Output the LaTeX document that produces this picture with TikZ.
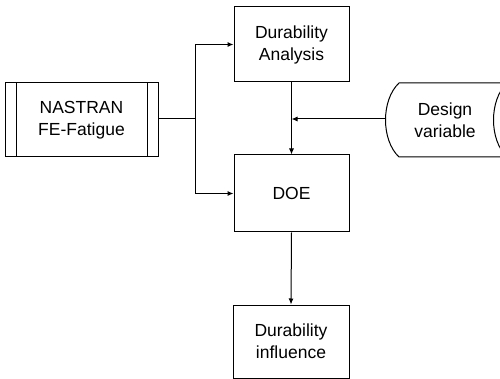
\documentclass[tikz,border=0pt]{standalone}
\usepackage{fontspec}
\setmainfont{Liberation Sans}
\usetikzlibrary{arrows.meta}
\begin{document}
\begin{tikzpicture}[x=1pt,y=-1pt,
  line width=1pt,
  box/.style={draw,inner sep=0pt,minimum width=115pt,minimum height=75pt,align=center,font=\fontsize{17.5}{22}\selectfont},
  txt/.style={inner sep=0pt,align=center,font=\fontsize{17.5}{22}\selectfont},
  arr/.style={-{Latex[length=6pt,width=5pt]}}]
\useasboundingbox (0,0) rectangle (500,379);
\clip (0,0) rectangle (500,379);
\node[box] (da) at (291.5,44.5) {Durability\\Analysis};
\node[box,minimum height=77pt] (doe) at (291.5,193.5) {DOE};
\node[box,minimum width=116pt,minimum height=73pt] (di) at (291,341.5) {Durability\\influence};
\node[box,minimum width=153pt,minimum height=74pt] (nas) at (81.5,120) {NASTRAN\\FE-Fatigue};
\draw (16,83) -- (16,157) (147,83) -- (147,157);
% design variable shape
\draw (512,83) -- (399,83) .. controls (381,100) and (381,140) .. (399,157) -- (512,157);
\draw (507,83) .. controls (489,100) and (489,140) .. (507,157);
\node[txt] (dv) at (445,120) {Design\\variable};
\coordinate (dvin) at (385.5,119);
\coordinate (m) at (da.south |- dvin);
\coordinate (j) at (195,119);
\draw (nas.east |- j) -- (j);
\draw[arr] (j) |- (da.west);
\draw[arr] (j) |- (doe.west);
\draw[arr] (da.south) -- (doe.north);
\draw[arr] (dvin) -- (m);
\draw[arr] (doe.south) -- (di.north);
\end{tikzpicture}
\end{document}
